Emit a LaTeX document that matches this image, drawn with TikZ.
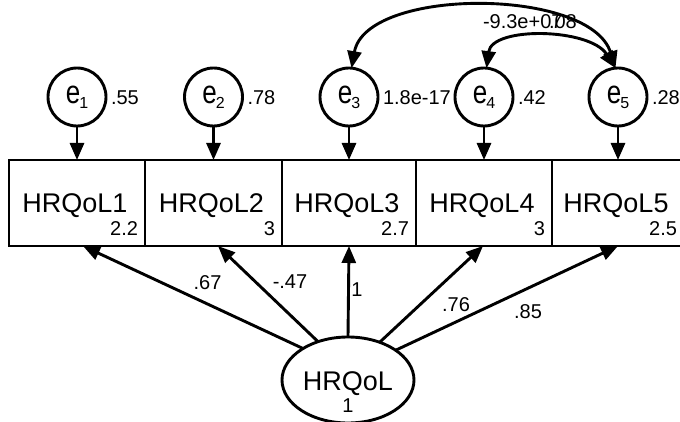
\documentclass[tikz,border=0pt]{standalone}
\usepackage{fontspec}
\setmainfont{Liberation Sans}
\usepackage{graphicx}
\usetikzlibrary{arrows.meta,calc,shapes.geometric}
\tikzset{
  every node/.style={inner sep=0pt, outer sep=0pt},
  obs/.style={draw, line width=2.9pt, minimum height=86pt},
  errc/.style={draw, circle, line width=2.9pt, minimum size=58pt},
  lat/.style={draw, ellipse, line width=2.9pt, minimum width=132pt, minimum height=86pt},
  big/.style={font=\fontsize{27}{30}\selectfont},
  num/.style={font=\fontsize{20}{22}\selectfont},
  arr/.style={line width=2.9pt, -{Triangle[length=17pt,width=14pt]}},
  darr/.style={line width=2.9pt, {Triangle[length=17pt,width=14pt]}-{Triangle[length=17pt,width=14pt]}},
}
\newcommand\evar[1]{\scalebox{1}[1.25]{\fontsize{26}{26}\selectfont e}\kern-1pt\raisebox{-5pt}{\fontsize{16}{16}\selectfont #1}}
\begin{document}
\begin{tikzpicture}[x=1pt,y=-1pt]
\useasboundingbox (0,0) rectangle (680,422);
% observed variables
\node[obs, minimum width=136pt] (b1) at (77,203) {};
\node[obs, minimum width=137pt] (b2) at (213.5,203) {};
\node[obs, minimum width=134pt] (b3) at (349,203) {};
\node[obs, minimum width=136pt] (b4) at (484,203) {};
\node[obs, minimum width=132pt] (b5) at (618,203) {};
\foreach \i/\v in {1/2.2,2/3,3/2.7,4/3,5/2.5}{
  \node[big, anchor=base] (t\i) at ($(b\i.center)+(-2,10)$) {HRQoL\i};
  \node[num, anchor=base east] (n\i) at ($(b\i.south east)+(-7,-10)$) {\v};
}
% errors
\node[errc] (e1) at (77,97) {\evar{1}};
\node[errc] (e2) at (213.5,97) {\evar{2}};
\node[errc] (e3) at (349,97) {\evar{3}};
\node[errc] (e4) at (484,97) {\evar{4}};
\node[errc] (e5) at (618,97) {\evar{5}};
\foreach \i/\v in {1/.55,2/.78,3/1.8e-17,4/.42,5/.28}{
  \node[num, anchor=west] (v\i) at ($(e\i.east)+(5,1)$) {\v};
  \draw[arr] (e\i) -- (b\i);
}
% latent
\node[lat] (h) at (348,380) {};
\node[big, anchor=base] (ht) at ($(h.center)+(0,10)$) {HRQoL};
\node[num, anchor=base] (hv) at ($(h.center)+(0,32)$) {1};
% loadings
\coordinate (p1) at ($(b1.south)+(6,0)$);
\coordinate (p2) at ($(b2.south)+(4.5,0)$);
\coordinate (p4) at ($(b4.south)+(-1,0)$);
\draw[arr] (h.145) -- (p1);
\draw[arr] (h.128) -- (p2);
\draw[arr] (h.90) -- (b3.south);
\draw[arr] (h.50) -- (p4);
\draw[arr] (h.32) -- (b5.south);
\node[num] (l1) at (207.5,282.5) {.67};
\node[num] (l2) at (290,282) {-.47};
\node[num] (l3) at (357,290) {1};
\node[num] (l4) at (456,305) {.76};
\node[num] (l5) at (528,312) {.85};
% covariances
\draw[darr] (e3.85) .. controls (366,-13) and (590,-13) .. (e5.95);
\draw[darr] (e4.85) .. controls (492,26) and (590,28) .. (e5.95);
\node[num, anchor=west] (c1) at (483,22) {-9.3e+07};
\node[num, anchor=west] (c2) at (549,22) {.08};
\end{tikzpicture}
\end{document}
